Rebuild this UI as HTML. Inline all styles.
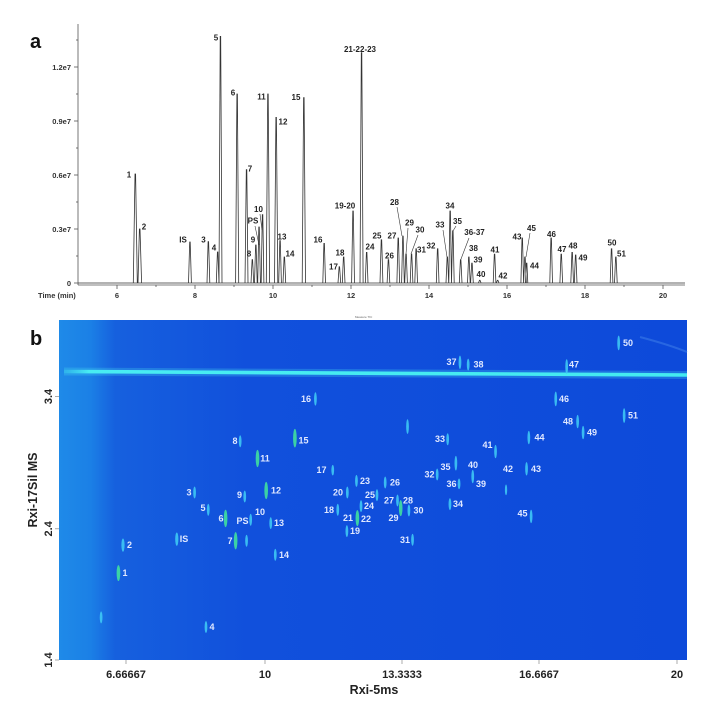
<!DOCTYPE html>
<html><head><meta charset="utf-8"><style>
html,body{margin:0;padding:0;background:#fff;width:711px;height:704px;overflow:hidden}
svg{display:block}
.lt{font-family:"Liberation Sans",sans-serif;font-size:8px;font-weight:bold;fill:#222;text-anchor:middle;dominant-baseline:central}
.ax{font-family:"Liberation Sans",sans-serif;font-size:7.5px;font-weight:bold;fill:#333}
.bl{font-family:"Liberation Sans",sans-serif;font-size:9px;font-weight:bold;fill:#e0e8ff;text-anchor:middle;dominant-baseline:central}
.bx{font-family:"Liberation Sans",sans-serif;font-size:11px;font-weight:bold;fill:#222}
</style></head><body>
<svg width="711" height="704" viewBox="0 0 711 704" xmlns="http://www.w3.org/2000/svg">
<defs>
<linearGradient id="bg" x1="0" x2="1" y1="0" y2="0">
<stop offset="0" stop-color="#1f8ae8"/><stop offset="0.05" stop-color="#1b80e6"/><stop offset="0.09" stop-color="#1660de"/><stop offset="0.3" stop-color="#1150dc"/><stop offset="1" stop-color="#0d4ada"/>
</linearGradient>
<linearGradient id="band" x1="0" x2="1"><stop offset="0" stop-color="#3fe0f0" stop-opacity="0.3"/><stop offset="0.04" stop-color="#48ecf2"/><stop offset="1" stop-color="#44eaf0"/></linearGradient>
</defs>
<!-- TOP PANEL -->
<text x="30" y="48" style="font-family:'Liberation Sans',sans-serif;font-size:20px;font-weight:bold" fill="#111">a</text>
<g stroke="#555" stroke-width="0.8">
<line x1="78" y1="24" x2="78" y2="285"/>
<line x1="78" y1="285" x2="685" y2="285"/>
<line x1="74" y1="283" x2="78" y2="283"/><line x1="76" y1="256" x2="78" y2="256"/>
<line x1="74" y1="229" x2="78" y2="229"/><line x1="76" y1="202" x2="78" y2="202"/>
<line x1="74" y1="175" x2="78" y2="175"/><line x1="76" y1="148" x2="78" y2="148"/>
<line x1="74" y1="121" x2="78" y2="121"/><line x1="76" y1="94" x2="78" y2="94"/>
<line x1="74" y1="67" x2="78" y2="67"/><line x1="76" y1="40" x2="78" y2="40"/>
<line x1="117" y1="285" x2="117" y2="289"/><line x1="156" y1="285" x2="156" y2="287"/>
<line x1="195" y1="285" x2="195" y2="289"/><line x1="234" y1="285" x2="234" y2="287"/>
<line x1="273" y1="285" x2="273" y2="289"/><line x1="312" y1="285" x2="312" y2="287"/>
<line x1="351" y1="285" x2="351" y2="289"/><line x1="390" y1="285" x2="390" y2="287"/>
<line x1="429" y1="285" x2="429" y2="289"/><line x1="468" y1="285" x2="468" y2="287"/>
<line x1="507" y1="285" x2="507" y2="289"/><line x1="546" y1="285" x2="546" y2="287"/>
<line x1="585" y1="285" x2="585" y2="289"/><line x1="624" y1="285" x2="624" y2="287"/>
<line x1="663" y1="285" x2="663" y2="289"/>
</g>
<g class="ax" text-anchor="end">
<text x="71" y="286">0</text><text x="71" y="232">0.3e7</text><text x="71" y="178">0.6e7</text><text x="71" y="124">0.9e7</text><text x="71" y="70">1.2e7</text>
</g>
<g class="ax" text-anchor="middle">
<text x="38" y="298" text-anchor="start">Time (min)</text>
<text x="117" y="298">6</text><text x="195" y="298">8</text><text x="273" y="298">10</text><text x="351" y="298">12</text><text x="429" y="298">14</text><text x="507" y="298">16</text><text x="585" y="298">18</text><text x="663" y="298">20</text>
</g>
<g fill="none" stroke="#333" stroke-width="0.8">
<path d="M78 283 H685"/>
<path d="M133.3 283 L135 174 L135.6 174 L137.3 283 M138 283 L139.4 229 L140 229 L141.6 283"/>
<path d="M188.5 283 L189.7 242 L190.2 242 L191.4 283"/>
<path d="M207 283 L208.1 241.6 L208.6 241.6 L209.8 283"/>
<path d="M216.3 283 L217.4 252 L217.9 252 L219 283"/>
<path d="M219 283 L220.2 36.4 L220.7 36.4 L222 283"/>
<path d="M235.6 283 L236.9 94 L237.4 94 L238.7 283"/>
<path d="M245 283 L246.3 169.6 L246.8 169.6 L248 283"/>
<path d="M251 283 L252.1 259.6 L252.6 259.6 L253.7 283 M254.5 283 L255.6 245 L256.1 245 L257.2 283 M257.7 283 L258.8 227 L259.3 227 L260.4 283 M261.2 283 L262.3 214.6 L262.8 214.6 L263.9 283"/>
<path d="M266.3 283 L267.7 94 L268.2 94 L269.6 283"/>
<path d="M274.5 283 L275.9 117.4 L276.4 117.4 L277.8 283"/>
<path d="M278.7 283 L279.8 240.7 L280.3 240.7 L281.4 283 M283 283 L284.1 257 L284.6 257 L285.7 283"/>
<path d="M302.2 283 L303.6 97.6 L304.1 97.6 L305.5 283"/>
<path d="M322.8 283 L323.9 243.4 L324.4 243.4 L325.5 283"/>
<path d="M338 283 L339.1 266.8 L339.6 266.8 L340.7 283 M342.3 283 L343.4 257 L343.9 257 L345 283"/>
<path d="M351.6 283 L352.8 211 L353.3 211 L354.5 283"/>
<path d="M360 283 L361.3 52.6 L361.8 52.6 L363.1 283"/>
<path d="M365.3 283 L366.4 252.4 L366.9 252.4 L368 283"/>
<path d="M380 283 L381.2 239.8 L381.7 239.8 L382.9 283 M387.1 283 L388.2 259.6 L388.7 259.6 L389.8 283"/>
<path d="M396.9 283 L398 238 L398.5 238 L399.6 283 M401.6 283 L402.7 236.2 L403.2 236.2 L404.3 283 M404.7 283 L405.8 254.2 L406.3 254.2 L407.4 283 M410.2 283 L411.3 254.2 L411.8 254.2 L412.9 283 M414.8 283 L415.9 248.8 L416.4 248.8 L417.5 283"/>
<path d="M436.3 283 L437.4 248.8 L437.9 248.8 L439 283 M446 283 L447.1 257 L447.6 257 L448.7 283 M448.8 283 L449.9 211 L450.4 211 L451.5 283 M451.5 283 L452.6 230.8 L453.1 230.8 L454.2 283"/>
<path d="M459.3 283 L460.4 259.6 L460.9 259.6 L462 283 M467.5 283 L468.6 257 L469.1 257 L470.2 283 M470.6 283 L471.7 263.2 L472.2 263.2 L473.3 283 M478.4 283 L479.5 280.3 L480 280.3 L481.1 283"/>
<path d="M493.2 283 L494.3 254.2 L494.8 254.2 L495.9 283 M496.3 283 L497.4 280.3 L497.9 280.3 L499 283"/>
<path d="M520.9 283 L522 238 L522.5 238 L523.6 283 M523.6 283 L524.7 257 L525.2 257 L526.3 283 M525.5 283 L526.4 263.2 L526.9 263.2 L527.8 283"/>
<path d="M549.8 283 L550.9 238 L551.4 238 L552.5 283 M559.9 283 L561 254.2 L561.5 254.2 L562.6 283 M570.8 283 L571.9 252.4 L572.4 252.4 L573.5 283 M574.3 283 L575.4 255 L575.9 255 L577 283"/>
<path d="M610.2 283 L611.3 248.8 L611.8 248.8 L612.9 283 M614.5 283 L615.6 257 L616.1 257 L617.2 283"/>
</g>
<g stroke="#333" stroke-width="0.6">
<line x1="397" y1="207" x2="402" y2="236"/><line x1="408" y1="228" x2="406" y2="254"/><line x1="418" y1="235" x2="411" y2="254"/>
<line x1="443" y1="230" x2="447" y2="257"/><line x1="456" y1="226" x2="453" y2="231"/><line x1="469" y1="238" x2="461" y2="259"/>
<line x1="255" y1="226" x2="259" y2="245"/><line x1="260" y1="214" x2="262" y2="230"/><line x1="530" y1="233" x2="526" y2="257"/>
</g>
<g class="lt">
<text x="129" y="175">1</text><text x="144" y="227">2</text><text x="183" y="240">IS</text><text x="203.5" y="240">3</text><text x="214" y="248">4</text>
<text x="216" y="38">5</text><text x="233" y="93">6</text><text x="250" y="169">7</text><text x="249" y="254">8</text><text x="253" y="240">9</text>
<text x="253" y="221">PS</text><text x="258.5" y="209.5">10</text><text x="261.5" y="97">11</text><text x="283" y="122">12</text><text x="282" y="237">13</text>
<text x="290" y="254">14</text><text x="296" y="97.5">15</text><text x="318" y="240">16</text><text x="333.5" y="267">17</text><text x="340" y="253">18</text>
<text x="345" y="206">19-20</text><text x="360" y="49.5">21-22-23</text><text x="370" y="247">24</text><text x="377" y="236">25</text><text x="389.5" y="256">26</text>
<text x="392" y="236">27</text><text x="394.5" y="202.5">28</text><text x="409.5" y="223">29</text><text x="420" y="230">30</text><text x="421.5" y="250">31</text>
<text x="431" y="246">32</text><text x="440" y="225">33</text><text x="450" y="206">34</text><text x="457.5" y="221.5">35</text><text x="474.5" y="232.5">36-37</text>
<text x="473.5" y="248.5">38</text><text x="478" y="260">39</text><text x="481" y="274.5">40</text><text x="495" y="250">41</text><text x="503" y="276">42</text>
<text x="517" y="237">43</text><text x="534.5" y="266">44</text><text x="531.5" y="228.5">45</text><text x="551.5" y="234.5">46</text><text x="562" y="249.5">47</text>
<text x="573" y="246">48</text><text x="583" y="258">49</text><text x="612" y="243">50</text><text x="621.5" y="254">51</text>
</g>
<!-- BOTTOM PANEL -->
<text x="30" y="345" style="font-family:'Liberation Sans',sans-serif;font-size:20px;font-weight:bold" fill="#111">b</text>
<text x="355" y="318" style="font-family:'Liberation Sans',sans-serif;font-size:3px" fill="#666">Measure TIC</text>
<rect x="59" y="320" width="628" height="340" fill="url(#bg)"/>
<path d="M640 337 Q670 345 687 352" stroke="#3a7ae8" stroke-width="2" fill="none" opacity="0.6"/>
<path d="M64 371.5 L687 375" stroke="#43d8f0" stroke-width="8" fill="none" opacity="0.28"/>
<path d="M64 371.5 L687 375" stroke="url(#band)" stroke-width="3.6" fill="none"/>
<g transform="translate(-1.5 310) scale(0.456 0.333)">
<g fill="#3ec8f5" opacity="0.9">
<ellipse cx="263" cy="790" rx="4" ry="24" fill="#40e0a0"/><ellipse cx="273" cy="706" rx="3.5" ry="20"/><ellipse cx="391" cy="688" rx="3.5" ry="20"/>
<ellipse cx="430" cy="548" rx="3" ry="18"/><ellipse cx="455" cy="952" rx="3" ry="18"/><ellipse cx="460" cy="600" rx="3" ry="18"/>
<ellipse cx="498" cy="626" rx="4" ry="26" fill="#40e0a0"/><ellipse cx="520" cy="693" rx="4" ry="26" fill="#40e0a0"/><ellipse cx="544" cy="693" rx="3" ry="18"/>
<ellipse cx="530" cy="394" rx="3" ry="18"/><ellipse cx="540" cy="560" rx="3" ry="18"/><ellipse cx="553" cy="630" rx="3" ry="18"/>
<ellipse cx="568" cy="446" rx="4" ry="26" fill="#40e0a0"/><ellipse cx="587" cy="542" rx="4" ry="26" fill="#40e0a0"/><ellipse cx="597" cy="640" rx="3" ry="18"/>
<ellipse cx="607" cy="735" rx="3" ry="18"/><ellipse cx="650" cy="385" rx="4" ry="28" fill="#40e0a0"/><ellipse cx="695" cy="267" rx="3" ry="20"/>
<ellipse cx="733" cy="481" rx="3" ry="16"/><ellipse cx="744" cy="600" rx="3" ry="18"/><ellipse cx="764" cy="664" rx="3" ry="18"/>
<ellipse cx="765" cy="548" rx="3" ry="18"/><ellipse cx="787" cy="625" rx="4" ry="24" fill="#40e0a0"/><ellipse cx="785" cy="513" rx="3" ry="18"/>
<ellipse cx="795" cy="589" rx="3" ry="18"/><ellipse cx="830" cy="556" rx="3" ry="18"/><ellipse cx="848" cy="518" rx="3" ry="18"/>
<ellipse cx="875" cy="572" rx="3" ry="18"/><ellipse cx="882" cy="595" rx="4" ry="24" fill="#40e0a0"/><ellipse cx="900" cy="602" rx="3" ry="18"/>
<ellipse cx="908" cy="690" rx="3" ry="18"/><ellipse cx="897" cy="350" rx="3" ry="22"/><ellipse cx="962" cy="494" rx="3" ry="18"/>
<ellipse cx="985" cy="388" rx="3" ry="18"/><ellipse cx="990" cy="583" rx="3" ry="18"/><ellipse cx="1003" cy="460" rx="3" ry="22"/>
<ellipse cx="1010" cy="522" rx="3" ry="16"/><ellipse cx="1012" cy="157" rx="3" ry="20"/><ellipse cx="1030" cy="164" rx="3" ry="18"/>
<ellipse cx="1040" cy="500" rx="3" ry="20"/><ellipse cx="1090" cy="425" rx="3" ry="20"/><ellipse cx="1113" cy="540" rx="2.5" ry="16"/>
<ellipse cx="1158" cy="477" rx="3" ry="20"/><ellipse cx="1163" cy="383" rx="3" ry="20"/><ellipse cx="1168" cy="620" rx="3" ry="20"/>
<ellipse cx="1222" cy="267" rx="3" ry="22"/><ellipse cx="1246" cy="170" rx="3" ry="22"/><ellipse cx="1270" cy="335" rx="3" ry="20"/>
<ellipse cx="1282" cy="368" rx="3" ry="20"/><ellipse cx="1360" cy="99" rx="3" ry="22"/><ellipse cx="1372" cy="317" rx="3" ry="22"/>
<ellipse cx="225" cy="923" rx="3" ry="18"/>
</g>
</g>
<g class="bl">
<text x="125" y="573">1</text><text x="129.5" y="545">2</text><text x="184" y="539">IS</text><text x="189" y="492.5">3</text><text x="212" y="627">4</text>
<text x="203" y="508">5</text><text x="221" y="518.5">6</text><text x="230" y="541">7</text><text x="235" y="441">8</text><text x="239.5" y="495">9</text>
<text x="242.5" y="521">PS</text><text x="260" y="512">10</text><text x="265" y="458.5">11</text><text x="276" y="490.5">12</text><text x="279" y="523">13</text>
<text x="284" y="555">14</text><text x="303.5" y="440.5">15</text><text x="306" y="399">16</text><text x="321.5" y="470">17</text><text x="329" y="510">18</text>
<text x="355" y="531">19</text><text x="338" y="492.5">20</text><text x="348" y="518">21</text><text x="366" y="519">22</text><text x="365" y="481">23</text>
<text x="369" y="506">24</text><text x="370" y="495">25</text><text x="395" y="482.5">26</text><text x="389" y="500.5">27</text><text x="408" y="500.5">28</text>
<text x="393.5" y="518">29</text><text x="418.5" y="510.5">30</text><text x="405" y="540">31</text><text x="429.5" y="474.5">32</text><text x="440" y="439">33</text>
<text x="458" y="504">34</text><text x="445.5" y="467">35</text><text x="451.5" y="484">36</text><text x="451.5" y="362">37</text><text x="478.5" y="364.5">38</text>
<text x="481" y="484">39</text><text x="473" y="465">40</text><text x="487.5" y="445">41</text><text x="508" y="469">42</text><text x="536" y="469">43</text>
<text x="539.5" y="437.5">44</text><text x="522.5" y="513.5">45</text><text x="564" y="399">46</text><text x="574" y="364.5">47</text><text x="568" y="421.5">48</text>
<text x="592" y="432.5">49</text><text x="628" y="343">50</text><text x="633" y="415.5">51</text>
</g>
<g stroke="#888" stroke-width="0.7">
<line x1="55" y1="396.5" x2="59" y2="396.5"/><line x1="55" y1="528.8" x2="59" y2="528.8"/><line x1="55" y1="660" x2="59" y2="660"/>
<line x1="126" y1="660" x2="126" y2="664"/><line x1="265" y1="660" x2="265" y2="664"/><line x1="402" y1="660" x2="402" y2="664"/><line x1="539" y1="660" x2="539" y2="664"/><line x1="677" y1="660" x2="677" y2="664"/>
</g>
<g class="bx" text-anchor="middle">
<text x="126" y="678">6.66667</text><text x="265" y="678">10</text><text x="402" y="678">13.3333</text><text x="539" y="678">16.6667</text><text x="677" y="678">20</text>
<text x="374" y="694" style="font-size:12.5px">Rxi-5ms</text>
<text transform="translate(52 396.5) rotate(-90)">3.4</text>
<text transform="translate(52 528.8) rotate(-90)">2.4</text>
<text transform="translate(52 660) rotate(-90)">1.4</text>
<text transform="translate(37 490) rotate(-90)" style="font-size:12.5px">Rxi-17Sil MS</text>
</g>
</svg>
</body></html>
